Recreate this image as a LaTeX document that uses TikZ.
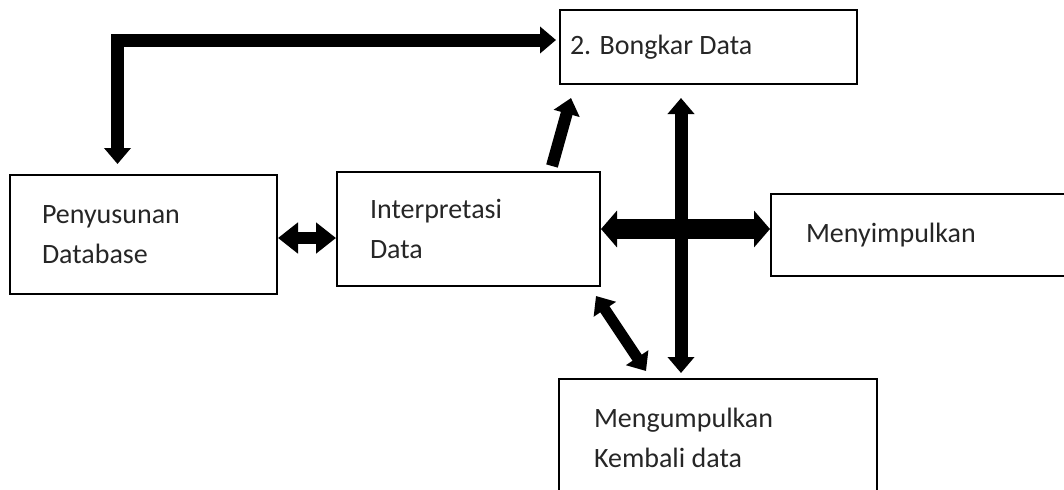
\documentclass[tikz,border=0pt]{standalone}
\usepackage{fontspec}
\setmainfont{Carlito}
\usetikzlibrary{arrows.meta,positioning}
\tikzset{
    %Define style for boxes
    kotak/.style={
           rectangle,
           draw=black, line width=1pt,
           align=flush left,
           text=black!85,
           font=\fontsize{14}{20}\selectfont},
    % Define arrow styles
    panah/.style={
           line width=6pt,
           -{Triangle[length=8pt,width=13pt]}},
    panahdua/.style={
           line width=6pt,
           {Triangle[length=8pt,width=13pt]}-{Triangle[length=8pt,width=13pt]}},
    panahbesar/.style={
           line width=10pt,
           {Triangle[length=8pt,width=18pt]}-{Triangle[length=8pt,width=18pt]}}
}
\begin{document}
\begin{tikzpicture}[x=0.5pt,y=-0.5pt]
\useasboundingbox (0,0) rectangle (1064,489);
\node[kotak, text width=138.5pt, inner xsep=5pt, minimum height=37pt] (bongkar) at (708.5,47) {2. Bongkar Data};
\node[kotak, text width=101.5pt, inner xsep=16pt, minimum height=59.5pt] (penyusunan) at (143.5,234.5) {Penyusunan\\Database};
\node[kotak, text width=98.5pt, inner xsep=16.5pt, minimum height=57pt] (interpretasi) at (468.5,229) {Interpretasi\\Data};
\node[kotak, text width=115pt, inner xsep=17.5pt, minimum height=41pt] (menyimpulkan) at (921,235) {Menyimpulkan};
\node[kotak, text width=124pt, inner xsep=17.5pt, minimum height=59pt] (mengumpulkan) at (718,438) {Mengumpulkan\\Kembali data};
% connectors
\draw[panahdua, line width=6.5pt, shorten <=1.5pt, shorten >=5pt] ([yshift=3.5pt]bongkar.west) -| ([xshift=-13pt]penyusunan.north);
\draw[panahdua, {Triangle[length=10pt,width=15pt]}-{Triangle[length=10pt,width=15pt]}] ([yshift=-1.75pt]penyusunan.east) coordinate (pd) -- (pd -| interpretasi.west);
\draw[panah] ([xshift=-24.5pt,yshift=2.5pt]interpretasi.north east) -- ([xshift=6pt,yshift=-6.5pt]bongkar.south west);
\draw[panahbesar] (interpretasi.east) -- (interpretasi.east -| menyimpulkan.west);
\draw[panahdua, line width=6.5pt, shorten <=6.5pt, shorten >=2.5pt] ([xshift=-13.75pt]bongkar.south) coordinate (vt) -- (vt |- mengumpulkan.north);
\draw[panahdua, line width=5.5pt] ([xshift=-2.5pt,yshift=-4.5pt]interpretasi.south east) -- ([xshift=44pt,yshift=3.5pt]mengumpulkan.north west);
\end{tikzpicture}
\end{document}
